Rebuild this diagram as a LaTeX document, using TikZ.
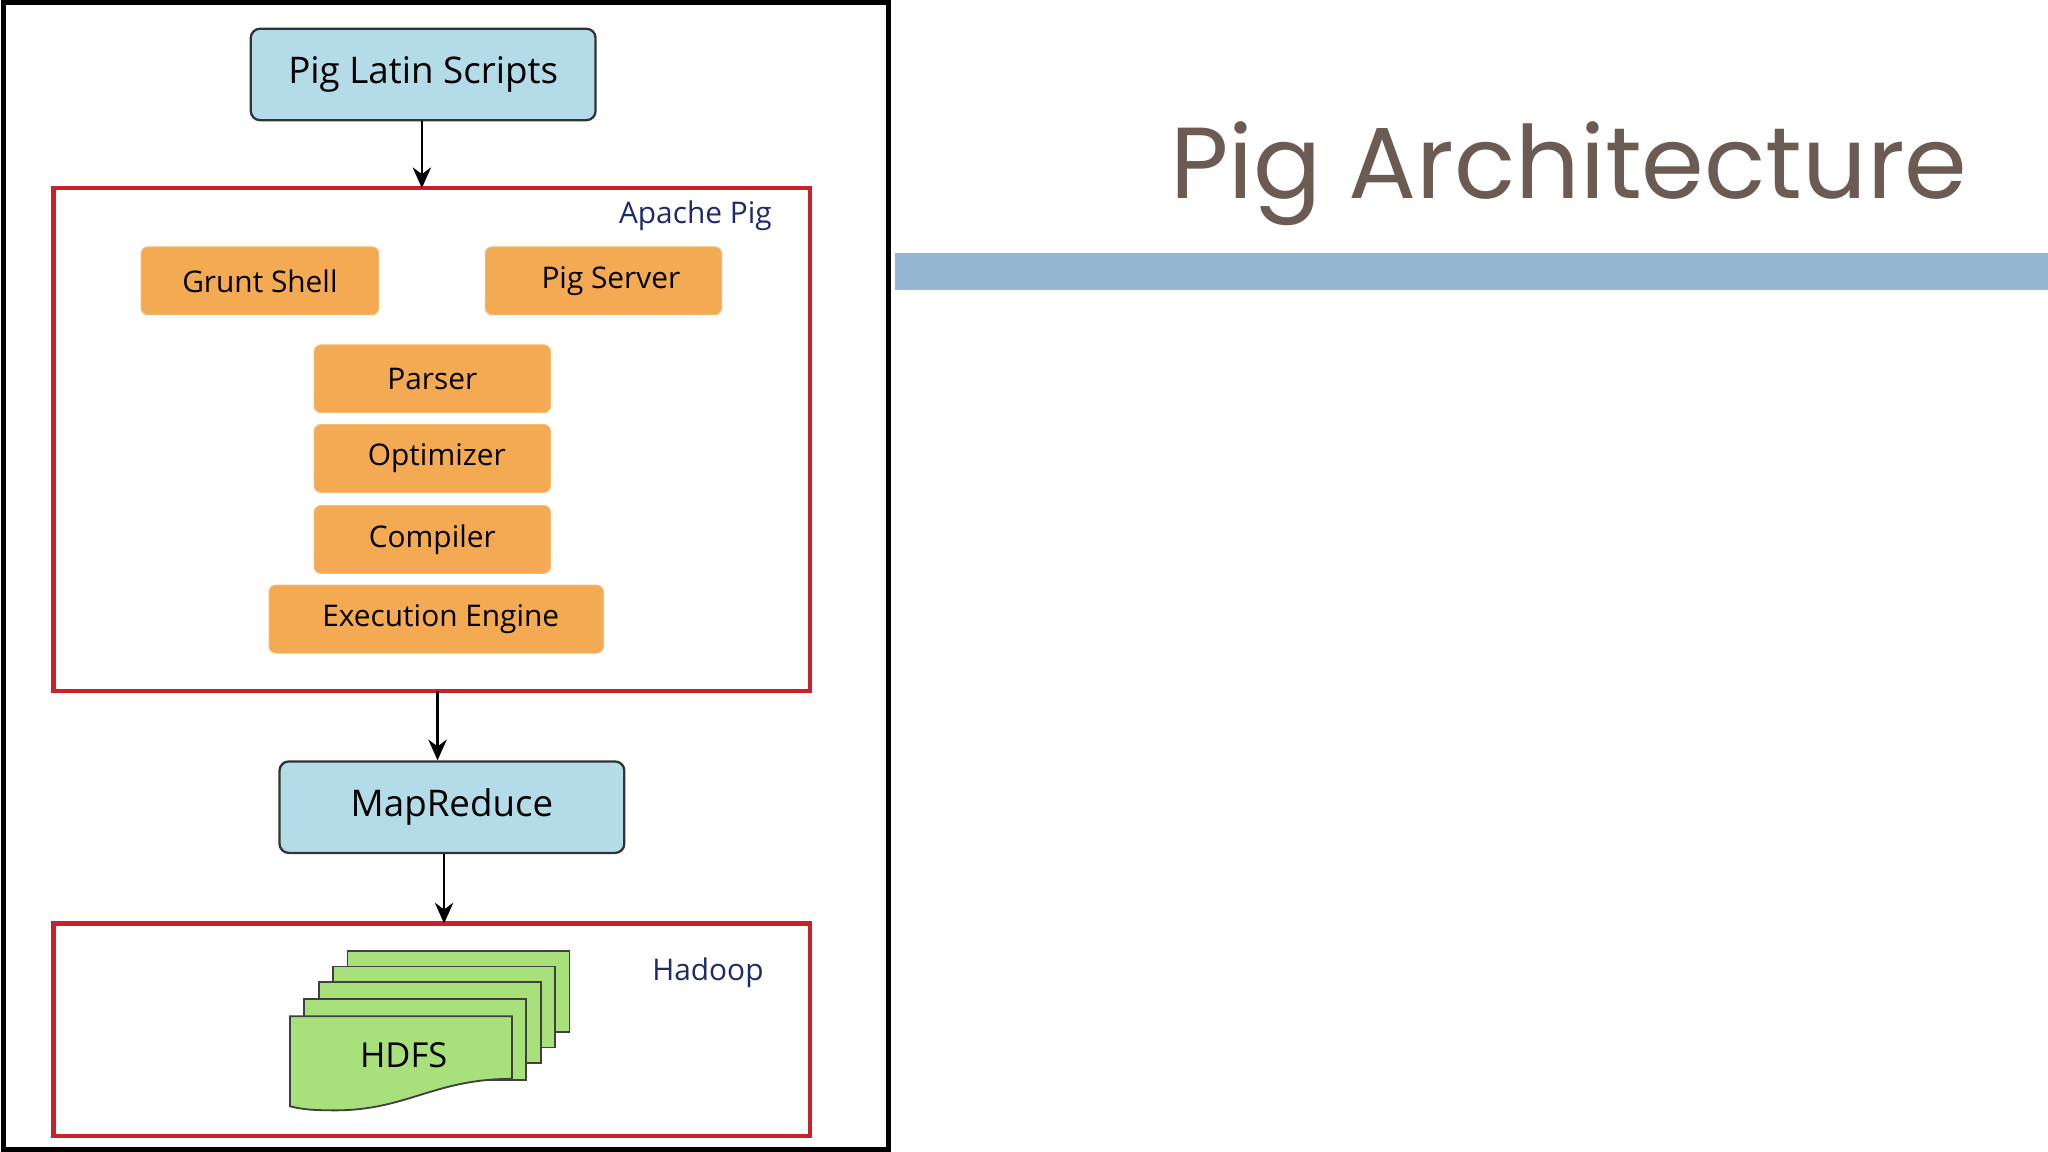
\documentclass[tikz,border=0pt]{standalone}
\usepackage{fontspec}
\setmainfont{Open Sans}
\newfontfamily\titlefont{Poppins}
\usetikzlibrary{arrows.meta}
\definecolor{boxblue}{HTML}{B3DBE8}
\definecolor{boxorange}{HTML}{F3AA52}
\definecolor{frred}{HTML}{C8232C}
\definecolor{navy}{HTML}{1F2A6B}
\definecolor{pagegreen}{HTML}{A8E07C}
\definecolor{titlec}{HTML}{6B5B53}
\definecolor{barblue}{HTML}{93B6D2}
\begin{document}
\begin{tikzpicture}[x=0.02cm,y=-0.02cm,
  bluebox/.style={draw=black!80,line width=1pt,fill=boxblue,rounded corners=4pt,font=\fontsize{16}{18}\selectfont},
  orbox/.style={fill=boxorange,draw=boxorange!80!white,rounded corners=3pt,font=\fontsize{13}{15}\selectfont},
  redframe/.style={draw=frred,line width=1.8pt},
  arr/.style={-{Stealth[length=9pt,width=8pt]},line width=1.2pt},
  lbl/.style={text=navy,font=\fontsize{13}{15}\selectfont},
  page/.style={fill=pagegreen,draw=black!75,line width=0.8pt}]
\useasboundingbox (0,0) rectangle (1568,882);
\fill[white] (0,0) rectangle (1568,882);
\draw[line width=2.2pt] (3,2) rectangle (680,880);
\node[bluebox,minimum width=264*0.02cm,minimum height=70*0.02cm] (pls) at (324,57) {Pig Latin Scripts};
\draw[redframe] (41,144) rectangle (620,529);
\node[lbl,anchor=east] (ap) at (597,165) {Apache Pig};
\coordinate (apTop) at (323,144);
\coordinate (apBot) at (335,529);
\node[orbox,minimum width=182*0.02cm,minimum height=52*0.02cm] (gs) at (199,215) {Grunt Shell};
\node[orbox,minimum width=181*0.02cm,minimum height=52*0.02cm] (ps) at (462,215) {\hspace{0.5em}Pig Server};
\node[orbox,minimum width=181*0.02cm,minimum height=52*0.02cm] (pa) at (331,290) {Parser};
\node[orbox,minimum width=181*0.02cm,minimum height=52*0.02cm] (op) at (331,351) {\hspace{0.3em}Optimizer};
\node[orbox,minimum width=181*0.02cm,minimum height=52*0.02cm] (co) at (331,413) {Compiler};
\node[orbox,minimum width=256*0.02cm,minimum height=52*0.02cm] (ee) at (334,474) {\hspace{0.3em}Execution Engine};
\draw[arr] (pls.south -| apTop) -- (apTop);
\node[bluebox,minimum width=264*0.02cm,minimum height=70*0.02cm] (mr) at (346,618) {MapReduce};
\draw[arr] (apBot) -- (apBot |- mr.north);
\draw[redframe] (41,707) rectangle (620,870);
\coordinate (hdTop) at (340,707);
\draw[arr] (mr.south -| hdTop) -- (hdTop);
\node[lbl] (hd) at (542,745) {Hadoop};
\foreach \dx/\dy in {44/-50,33/-38,22/-26,11/-13}{
  \draw[page] (222+\dx,778+\dy) rectangle ++(170,62);
}
\draw[page] (222,778) -- (392,778) -- (392,826) .. controls (330,826) and (310,852) .. (250,850) .. controls (238,850) and (230,849) .. (222,847) -- cycle;
\node[font=\fontsize{15}{17}\selectfont] (hdfs) at (309,808) {HDFS};
\fill[barblue] (685,194) rectangle (1568,222);
\node[text=titlec,font=\titlefont\fontsize{44}{50}\selectfont] (title) at (1201,133) {Pig Architecture};
\end{tikzpicture}
\end{document}
